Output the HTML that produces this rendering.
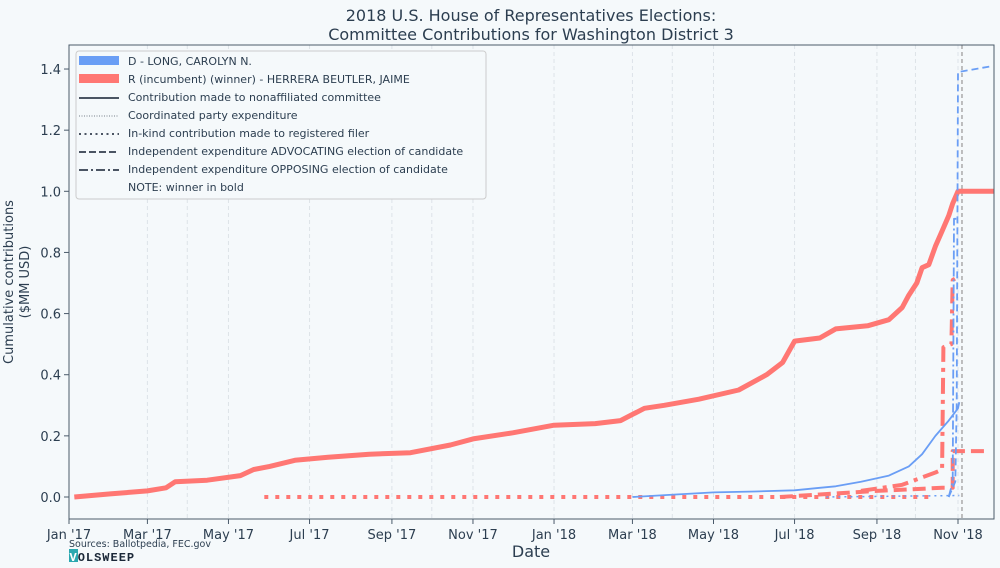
<!DOCTYPE html>
<html><head><meta charset="utf-8"><style>
body{margin:0;background:#f5f9fb;}
svg{display:block;font-family:"DejaVu Sans","Liberation Sans",sans-serif;}
</style></head><body>
<svg id="c" width="1000" height="568">
<rect width="1000" height="568" fill="#f5f9fb"/>
<text x="531" y="21" text-anchor="middle" font-size="16" fill="#2c3e50">2018 U.S. House of Representatives Elections:</text>
<text x="531" y="40" text-anchor="middle" font-size="16" fill="#2c3e50">Committee Contributions for Washington District 3</text>
<g id="grid"></g><g id="marks"></g><g id="axes"></g>
<text transform="translate(20,282) rotate(-90)" text-anchor="middle" font-size="13" fill="#2c3e50"><tspan x="0" dy="-7">Cumulative contributions</tspan><tspan x="0" dy="16">($MM USD)</tspan></text>
<text x="531" y="557" text-anchor="middle" font-size="16" fill="#2c3e50">Date</text>
<text x="69" y="547" font-size="9.5" fill="#2c3e50">Sources: Ballotpedia, FEC.gov</text>
<rect x="69" y="549" width="9" height="13" fill="#2aa8b0"/>
<text x="69.5" y="561" font-size="12" font-weight="bold" fill="#1b2838" font-family="Liberation Mono, monospace" letter-spacing="1"><tspan fill="#fff">V</tspan>OLSWEEP</text>
<g>
<rect x="76" y="51" width="410" height="148" rx="3" fill="#f5f9fb" stroke="#ccc"/>
<rect x="79" y="56" width="40" height="9" fill="#6a9ef5"/>
<rect x="79" y="74" width="40" height="9" fill="#ff7773"/>
<line x1="79" x2="119" y1="98" y2="98" stroke="#4b5563" stroke-width="2"/>
<line x1="79" x2="119" y1="116" y2="116" stroke="#4b5563" stroke-width="0.8" stroke-dasharray="1,1.5"/>
<line x1="79" x2="119" y1="134" y2="134" stroke="#4b5563" stroke-width="2" stroke-dasharray="2,3.5"/>
<line x1="79" x2="119" y1="152" y2="152" stroke="#4b5563" stroke-width="2" stroke-dasharray="7,3"/>
<line x1="79" x2="119" y1="170" y2="170" stroke="#4b5563" stroke-width="2" stroke-dasharray="9,3,2,3"/>
<g font-size="11" fill="#2c3e50">
<text x="128" y="65">D - LONG, CAROLYN N.</text>
<text x="128" y="83">R (incumbent) (winner) - HERRERA BEUTLER, JAIME</text>
<text x="128" y="101">Contribution made to nonaffiliated committee</text>
<text x="128" y="119">Coordinated party expenditure</text>
<text x="128" y="137">In-kind contribution made to registered filer</text>
<text x="128" y="155">Independent expenditure ADVOCATING election of candidate</text>
<text x="128" y="173">Independent expenditure OPPOSING election of candidate</text>
<text x="128" y="191">NOTE: winner in bold</text>
</g></g>
</svg>
<script>
const yTicks=[0,0.2,0.4,0.6,0.8,1.0,1.2,1.4];
const xTickDates=["2017-01-01","2017-03-01","2017-05-01","2017-07-01","2017-09-01","2017-11-01","2018-01-01","2018-03-01","2018-05-01","2018-07-01","2018-09-01","2018-11-01"];
const xTickLabels=["Jan '17","Mar '17","May '17","Jul '17","Sep '17","Nov '17","Jan '18","Mar '18","May '18","Jul '18","Sep '18","Nov '18"];
const extraGridDates=["2017-03-31","2017-10-01","2018-03-31","2018-09-30"];
const electionDate="2018-11-04";
const repSolidDates=["2017-01-05","2017-02-01","2017-03-01","2017-03-15","2017-03-22","2017-04-15","2017-05-10","2017-05-20","2017-06-01","2017-06-20","2017-07-15","2017-08-15","2017-09-15","2017-10-15","2017-11-01","2017-12-01","2018-01-01","2018-02-01","2018-02-20","2018-03-10","2018-03-25","2018-04-20","2018-05-20","2018-06-10","2018-06-22","2018-07-01","2018-07-20","2018-08-01","2018-08-25","2018-09-10","2018-09-20","2018-09-25","2018-10-01","2018-10-05","2018-10-10","2018-10-15","2018-10-20","2018-10-25","2018-10-28","2018-11-01","2018-11-28"];
const repSolidVals=[0,0.01,0.02,0.03,0.05,0.055,0.07,0.09,0.1,0.12,0.13,0.14,0.145,0.17,0.19,0.21,0.235,0.24,0.25,0.29,0.3,0.32,0.35,0.4,0.44,0.51,0.52,0.55,0.56,0.58,0.62,0.66,0.7,0.75,0.76,0.82,0.87,0.92,0.96,1.0,1.0];
const repInkindDates=["2017-05-28","2018-10-12"];
const repInkindVals=[0,0];
const repAdvDates=["2018-06-20","2018-09-01","2018-10-20","2018-10-28","2018-10-28","2018-11-25"];
const repAdvVals=[0,0.02,0.03,0.03,0.15,0.15];
const repOppDates=["2018-08-20","2018-09-20","2018-10-15","2018-10-20","2018-10-21","2018-10-27","2018-10-28","2018-11-01"];
const repOppVals=[0.02,0.04,0.08,0.09,0.49,0.5,0.71,0.72];
const demSolidDates=["2018-03-01","2018-04-01","2018-05-01","2018-06-01","2018-07-01","2018-07-20","2018-08-01","2018-08-20","2018-09-10","2018-09-25","2018-10-05","2018-10-15","2018-10-25","2018-11-01","2018-11-02"];
const demSolidVals=[0,0.008,0.015,0.018,0.022,0.03,0.035,0.05,0.07,0.1,0.14,0.2,0.25,0.29,0.31];
const demAdvDates=["2018-10-25","2018-10-30","2018-10-31","2018-11-01","2018-11-27"];
const demAdvVals=[0,0.05,0.3,1.39,1.41];
const demOppDates=["2018-10-25","2018-10-28","2018-10-29","2018-10-31"];
const demOppVals=[0,0.05,0.91,0.91];
const demCoordDates=["2018-07-25","2018-11-02"];
const demCoordVals=[0,0.005];

const X0=Date.UTC(2017,0,1), PXD=889/669;
function day(s){const p=s.split("-");return (Date.UTC(+p[0],p[1]-1,+p[2])-X0)/864e5;}
function xs(s){return 69+day(s)*PXD;}
function ys(v){return 497-v*305.7;}
const NS="http://www.w3.org/2000/svg";
function mk(tag,attrs,parent){const e=document.createElementNS(NS,tag);for(const k in attrs)e.setAttribute(k,attrs[k]);parent.appendChild(e);return e;}
const grid=document.getElementById("grid"),marks=document.getElementById("marks"),axes=document.getElementById("axes");
xTickDates.concat(extraGridDates).forEach(d=>{
  const l=mk("line",{x1:xs(d),x2:xs(d),y1:45,y2:519,stroke:"#dde3e8","stroke-width":1,"stroke-dasharray":"4,3"},grid);
  
  
});
const el=mk("line",{x1:xs(electionDate),x2:xs(electionDate),y1:45,y2:519,stroke:"#aaa","stroke-width":1.5,"stroke-dasharray":"4,3"},grid);


function series(dates,vals,color,w,dash,name){
  let d="";dates.forEach((t,i)=>{d+=(i?"L":"M")+xs(t).toFixed(1)+","+ys(vals[i]).toFixed(1);});
  const p=mk("path",{d:d,fill:"none",stroke:color,"stroke-width":w,"stroke-dasharray":dash,"stroke-linejoin":"round"},marks);
  
  
}
const R="#ff7773",B="#6a9ef5";
series(repInkindDates,repInkindVals,R,4,"4,7","rep-inkind-line");
series(repAdvDates,repAdvVals,R,4,"13,6","rep-advocating-line");
series(repOppDates,repOppVals,R,4,"16,6,4,6","rep-opposing-line");
series(repSolidDates,repSolidVals,R,5,"none","rep-nonaffiliated-line");
series(demSolidDates,demSolidVals,B,1.8,"none","dem-nonaffiliated-line");
series(demCoordDates,demCoordVals,B,1.5,"2,4","dem-coordinated-line");
series(demAdvDates,demAdvVals,B,1.8,"7,4","dem-advocating-line");
series(demOppDates,demOppVals,B,1.8,"9,3,2,3","dem-opposing-line");
const fr=mk("rect",{x:69,y:45,width:925,height:474,fill:"none",stroke:"#4a5a6a","stroke-width":1},axes);


yTicks.forEach(v=>{
  mk("line",{x1:64,x2:69,y1:ys(v),y2:ys(v),stroke:"#4a5a6a"},axes);
  const t=mk("text",{x:61,y:ys(v)+5,"text-anchor":"end","font-size":13,fill:"#2c3e50"},axes);
  t.textContent=v.toFixed(1);
  
  
});
xTickDates.forEach((d,i)=>{
  mk("line",{x1:xs(d),x2:xs(d),y1:519,y2:524,stroke:"#4a5a6a"},axes);
  const t=mk("text",{x:xs(d),y:539,"text-anchor":"middle","font-size":13,fill:"#2c3e50"},axes);
  t.textContent=xTickLabels[i];
  
  
});
</script>
</body></html>
